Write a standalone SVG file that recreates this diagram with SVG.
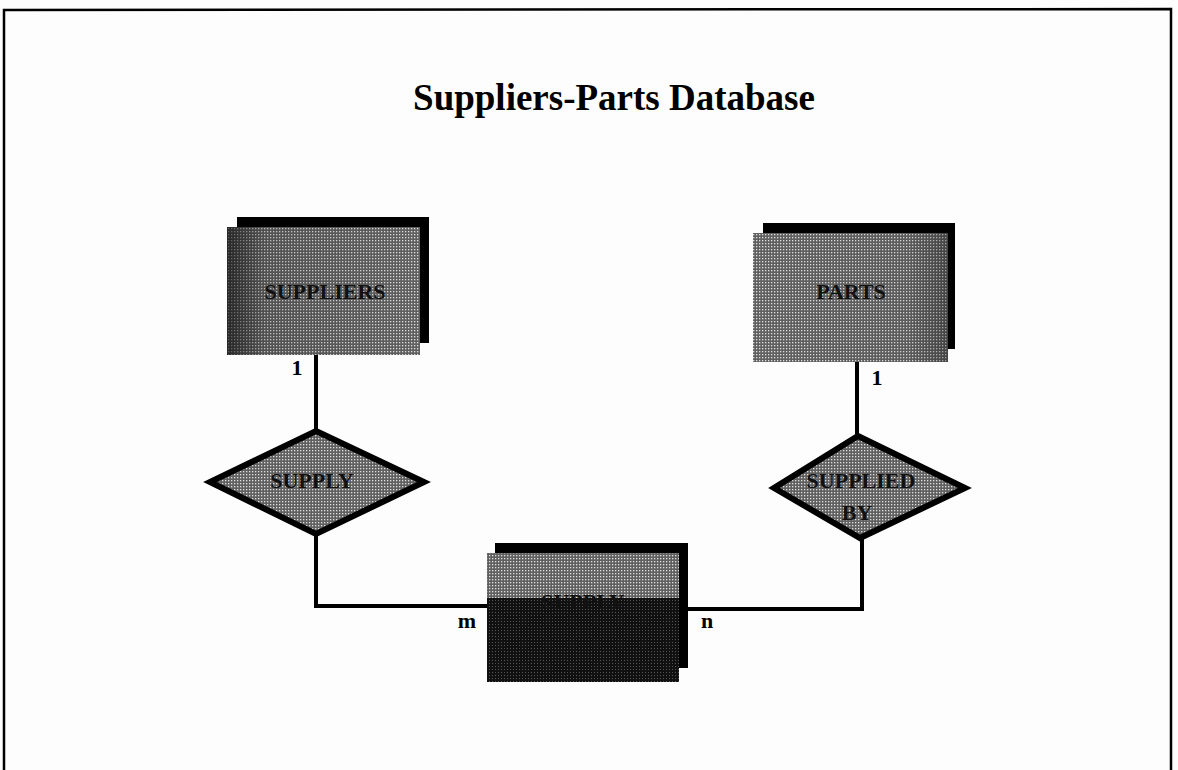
<svg xmlns="http://www.w3.org/2000/svg" width="1178" height="770" viewBox="0 0 1178 770">
<style>
.t{font-family:"Liberation Serif","Times New Roman",serif;font-weight:bold;}
.lbl{font-family:"Liberation Serif","Times New Roman",serif;font-weight:bold;font-size:22px;fill:#111;text-anchor:middle;}
.card{font-family:"Liberation Serif","Times New Roman",serif;font-weight:bold;font-size:22px;fill:#000;}
.conn{fill:none;stroke:#000;stroke-width:4;}
</style>
<defs>
<pattern id="ht" width="3" height="3" patternUnits="userSpaceOnUse">
<rect width="3" height="3" fill="#606060"/>
<rect x="0" y="0" width="1.3" height="1.3" fill="#e0e0e0"/>
</pattern>
<pattern id="htd" width="3" height="3" patternUnits="userSpaceOnUse">
<rect width="3" height="3" fill="#111"/>
<rect x="0" y="0" width="1" height="1" fill="#555"/>
</pattern>
<linearGradient id="leftshade" x1="0" x2="1" y1="0" y2="0">
<stop offset="0" stop-color="#000" stop-opacity="0.6"/>
<stop offset="0.2" stop-color="#000" stop-opacity="0.15"/>
<stop offset="1" stop-color="#000" stop-opacity="0"/>
</linearGradient>
<linearGradient id="rightshade" x1="0" x2="1" y1="0" y2="0">
<stop offset="0" stop-color="#000" stop-opacity="0"/>
<stop offset="0.8" stop-color="#000" stop-opacity="0.05"/>
<stop offset="1" stop-color="#000" stop-opacity="0.3"/>
</linearGradient>
</defs>
<rect width="1178" height="770" fill="#fdfdfd"/>
<path d="M4,770 L4,10 L1171,9 L1171,770" fill="none" stroke="#000" stroke-width="2.5"/>
<text class="t" x="614" y="110" font-size="37" text-anchor="middle" fill="#000">Suppliers-Parts Database</text>

<g id="connectors">
<path class="conn" d="M316,355 L316,431"/>
<path class="conn" d="M316,534 L316,606 L488,606"/>
<path class="conn" d="M857,362 L857,436"/>
<path class="conn" d="M862,537 L862,609 L680,609"/>
<text class="card" x="297" y="375" text-anchor="middle">1</text>
<text class="card" x="877" y="385" text-anchor="middle">1</text>
<text class="card" x="467" y="628" text-anchor="middle">m</text>
<text class="card" x="707" y="628" text-anchor="middle">n</text>
</g>

<g id="suppliers">
<rect x="237" y="217" width="192" height="126" fill="#000"/>
<rect x="227" y="227" width="193" height="128" fill="url(#ht)"/>
<rect x="227" y="227" width="193" height="128" fill="url(#leftshade)"/>
<text class="lbl" x="325" y="299">SUPPLIERS</text>
</g>

<g id="parts">
<rect x="763" y="223" width="192" height="126" fill="#000"/>
<rect x="753" y="233" width="195" height="129" fill="url(#ht)"/>
<rect x="753" y="233" width="195" height="129" fill="url(#rightshade)"/>
<text class="lbl" x="851" y="299">PARTS</text>
</g>

<g id="supply">
<polygon points="316,431 424,482 316,534 210,482" fill="url(#ht)" stroke="#000" stroke-width="6" stroke-linejoin="miter"/>
<text class="lbl" x="312" y="488" font-size="19">SUPPLY</text>
</g>

<g id="supplied-by">
<polygon points="858,436 965,488 860,538 774,488" fill="url(#ht)" stroke="#000" stroke-width="6" stroke-linejoin="miter"/>
<text class="lbl" x="861" y="488" font-size="18">SUPPLIED</text>
<text class="lbl" x="857" y="520" font-size="18">BY</text>
</g>

<g id="supply-table">
<rect x="495" y="543" width="193" height="125" fill="#000"/>
<rect x="487" y="553" width="192" height="46" fill="url(#ht)"/>
<rect x="487" y="598" width="192" height="84" fill="url(#htd)"/>
<text class="lbl" x="583" y="609" fill="#3a3a3a">SUPPLY</text>
</g>
</svg>
